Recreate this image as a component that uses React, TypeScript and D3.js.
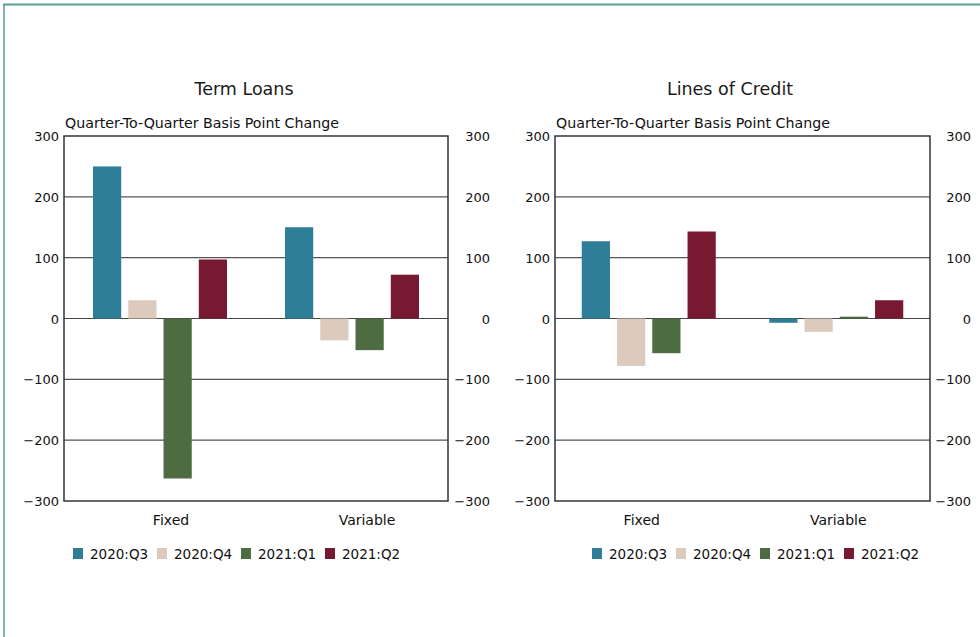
import React from "react";
import * as d3 from "d3";

const categories = ["Fixed", "Variable"];
const seriesNames = ["2020:Q3", "2020:Q4", "2021:Q1", "2021:Q2"];
const seriesColors = ["#2f7e98", "#dccbbd", "#4d6c42", "#771a31"];
const termLoans = [
  [250, 150],
  [30, -36],
  [-263, -52],
  [97, 72],
];
const linesOfCredit = [
  [127, -7],
  [-78, -22],
  [-57, 3],
  [143, 30],
];
const yTicks = [300, 200, 100, 0, -100, -200, -300];
const subtitle = "Quarter-To-Quarter Basis Point Change";

const FONT = "'DejaVu Sans', Verdana, sans-serif";

type PanelProps = {
  title: string;
  values: number[][];
  x0: number;
  x1: number;
  titleX: number;
  legendX: number;
  labelDx: number[];
  rightEnd: number;
};

function fmt(v: number) {
  return v < 0 ? "\u2212" + Math.abs(v) : String(v);
}

function Panel({ title, values, x0, x1, titleX, legendX, labelDx, rightEnd }: PanelProps) {
  const top = 136;
  const bottom = 501;
  const y = d3.scaleLinear().domain([-300, 300]).range([bottom, top]);
  const xb = d3.scaleBand().domain(categories).range([x0, x1]).paddingInner(0).paddingOuter(0);
  const groupW = 134;
  const xs = d3
    .scaleBand()
    .domain(seriesNames)
    .range([0, groupW])
    .paddingInner(0.2)
    .paddingOuter(0);
  return (
    <g fontFamily={FONT} fill="#111">
      <text x={titleX} y={95} textAnchor="middle" fontSize={17.5} fill="#1a1a1a">
        {title}
      </text>
      <text x={x0 + 1} y={128} fontSize={14} fill="#111" textLength={274} lengthAdjust="spacingAndGlyphs">
        {subtitle}
      </text>
      {yTicks.map((t) => (
        <g key={t}>
          {t !== 300 && t !== -300 && (
            <line
              x1={x0}
              x2={x1}
              y1={y(t)}
              y2={y(t)}
              stroke={t === 0 ? "#444" : "#555"}
              strokeWidth={1.2}
            />
          )}
          <text x={x0 - 5} y={y(t) + 5} textAnchor="end" fontSize={13} fill="#111">
            {fmt(t)}
          </text>
          <text x={rightEnd} y={y(t) + 5} textAnchor="end" fontSize={13} fill="#111">
            {fmt(t)}
          </text>
        </g>
      ))}
      {categories.map((c, ci) => {
        const cx = (xb(c) as number) + xb.bandwidth() / 2;
        const gx = cx - groupW / 2;
        return (
          <g key={c}>
            {seriesNames.map((s, si) => {
              const v = values[si][ci];
              const yy = Math.min(y(v), y(0));
              const h = Math.abs(y(v) - y(0));
              return (
                <rect
                  key={s}
                  x={gx + (xs(s) as number)}
                  y={yy}
                  width={xs.bandwidth()}
                  height={h}
                  fill={seriesColors[si]}
                />
              );
            })}
            <text x={cx + labelDx[ci]} y={525} textAnchor="middle" fontSize={14} fill="#111">
              {c}
            </text>
          </g>
        );
      })}
      <rect
        x={x0}
        y={top}
        width={x1 - x0}
        height={bottom - top}
        fill="none"
        stroke="#333"
        strokeWidth={1.5}
      />
      {seriesNames.map((s, i) => (
        <g key={s} transform={`translate(${legendX + i * 84},0)`}>
          <rect x={0} y={548} width={10} height={11} fill={seriesColors[i]} />
          <text x={17} y={559} fontSize={13.5} fill="#111">
            {s}
          </text>
        </g>
      ))}
    </g>
  );
}

export default function App() {
  return (
    <svg
      width={980}
      height={637}
      style={{ position: "absolute", left: 0, top: 0, background: "#fff" }}
    >
      <rect x={0} y={0} width={980} height={637} fill="#fff" />
      <line x1={3} x2={980} y1={4.5} y2={4.5} stroke="#5a9c97" strokeWidth={2} />
      <line x1={4} x2={4} y1={4} y2={637} stroke="#5a9c97" strokeWidth={1.5} />
      <Panel
        title="Term Loans"
        values={termLoans}
        x0={64}
        x1={448}
        titleX={244}
        legendX={73}
        labelDx={[11, 15]}
        rightEnd={490}
      />
      <Panel
        title="Lines of Credit"
        values={linesOfCredit}
        x0={555}
        x1={930}
        titleX={730}
        legendX={592}
        labelDx={[-7, 2]}
        rightEnd={971}
      />
    </svg>
  );
}
